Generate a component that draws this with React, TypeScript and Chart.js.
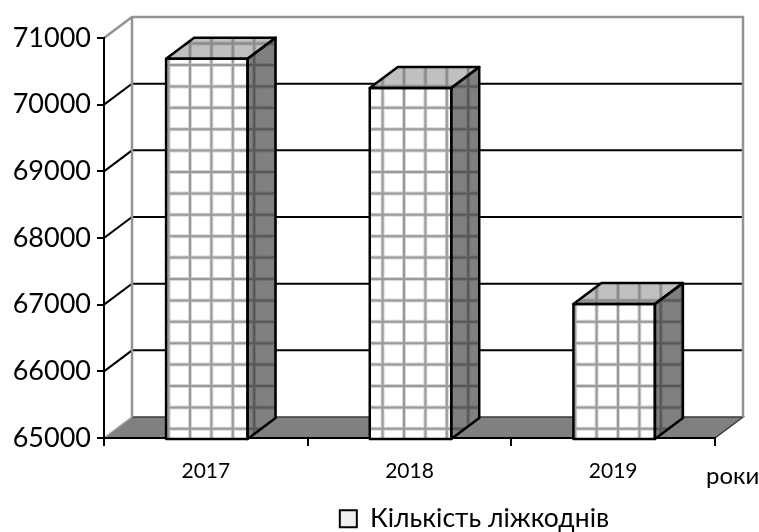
import React, { useEffect, useRef } from "react";
import { Chart, registerables } from "chart.js";

Chart.register(...registerables);

// ---- data ----
const categories = ["2017", "2018", "2019"];
const seriesLabel = "Кількість ліжкоднів";
const bedDays = [70690, 70250, 67010];
const yMin = 65000;
const yMax = 71000;
const yStep = 1000;
const xAxisTitle = "роки";

// ---- style constants ----
const FONT = "Lato, 'Open Sans', sans-serif";
const LEGEND_FONT = "Lato, 'Open Sans', sans-serif";
const DX = 28; // depth offset x
const DY = -21; // depth offset y
const CELL = 21.4; // pattern cell
const PAT_OX = 86; // pattern origin relative to chart area left
const PAT_OY = 27; // pattern origin relative to chart area top

function gridLines(ctx: CanvasRenderingContext2D, x0: number, y0: number, x1: number, y1: number, ox: number, oy: number, light: string, dark: string) {
  const drawSet = (color: string, w: number) => {
    ctx.strokeStyle = color;
    ctx.lineWidth = w;
    ctx.beginPath();
    let k = Math.floor((x0 - ox) / CELL) - 1;
    for (let gx = ox + k * CELL; gx <= x1 + 2; gx += CELL) {
      if (gx < x0 - 2) continue;
      ctx.moveTo(gx, y0);
      ctx.lineTo(gx, y1);
    }
    k = Math.floor((y0 - oy) / CELL) - 1;
    for (let gy = oy + k * CELL; gy <= y1 + 2; gy += CELL) {
      if (gy < y0 - 2) continue;
      ctx.moveTo(x0, gy);
      ctx.lineTo(x1, gy);
    }
    ctx.stroke();
  };
  drawSet(light, 4);
  drawSet(dark, 2);
}

const threeDPlugin = {
  id: "threeD",
  beforeDraw(chart: any) {
    const { ctx, chartArea } = chart;
    const yS = chart.scales.y;
    const left = chartArea.left;
    const right = chartArea.right;
    const top = yS.getPixelForValue(yMax);
    const bottom = yS.getPixelForValue(yMin);
    ctx.save();
    ctx.fillStyle = "#ffffff";
    ctx.fillRect(0, 0, chart.width, chart.height);
    // floor
    ctx.beginPath();
    ctx.moveTo(left, bottom);
    ctx.lineTo(right, bottom);
    ctx.lineTo(right + DX, bottom + DY);
    ctx.lineTo(left + DX, bottom + DY);
    ctx.closePath();
    ctx.fillStyle = "#808080";
    ctx.fill();
    ctx.strokeStyle = "#3a3a3a";
    ctx.lineWidth = 1.5;
    ctx.beginPath();
    ctx.moveTo(right, bottom);
    ctx.lineTo(right + DX, bottom + DY);
    ctx.lineTo(left + DX, bottom + DY);
    ctx.stroke();
    ctx.strokeStyle = "#a0a0a0";
    ctx.beginPath();
    ctx.moveTo(left, bottom);
    ctx.lineTo(left + DX, bottom + DY);
    ctx.stroke();
    // gridlines on side and back walls
    ctx.strokeStyle = "#000000";
    ctx.lineWidth = 2;
    for (let v = yMin + yStep; v < yMax; v += yStep) {
      const yy = yS.getPixelForValue(v);
      ctx.beginPath();
      ctx.moveTo(left, yy);
      ctx.lineTo(left + DX, yy + DY);
      ctx.lineTo(right + DX, yy + DY);
      ctx.stroke();
    }
    // wall borders
    ctx.strokeStyle = "#939393";
    ctx.lineWidth = 2.5;
    ctx.beginPath();
    ctx.moveTo(left, top);
    ctx.lineTo(left + DX, top + DY);
    ctx.lineTo(right + DX, top + DY);
    ctx.lineTo(right + DX, bottom + DY);
    ctx.moveTo(left + DX, top + DY);
    ctx.lineTo(left + DX, bottom + DY);
    ctx.stroke();
    ctx.restore();
  },
  afterDatasetsDraw(chart: any) {
    const { ctx, chartArea } = chart;
    const yS = chart.scales.y;
    const floorY = yS.getPixelForValue(yMin);
    const ox = chartArea.left + PAT_OX;
    const oy = chartArea.top + PAT_OY;
    const meta = chart.getDatasetMeta(0);
    ctx.save();
    meta.data.forEach((el: any) => {
      const { x, y, width } = el.getProps(["x", "y", "width"], true);
      const base = floorY + 1;
      const l = x - width / 2 + 1;
      const r = x + width / 2 + 1;
      const faces = [
        {
          pts: [[l, y], [r, y], [r, base], [l, base]],
          fill: "#ffffff", light: "#d6d6d6", dark: "#9a9a9a",
        },
        {
          pts: [[l, y], [l + DX, y + DY], [r + DX, y + DY], [r, y]],
          fill: "#c0c0c0", light: "#a8a8a8", dark: "#8a8a8a",
        },
        {
          pts: [[r, y], [r + DX, y + DY], [r + DX, base + DY], [r, base]],
          fill: "#808080", light: "#707070", dark: "#585858",
        },
      ];
      faces.forEach((f) => {
        ctx.save();
        ctx.beginPath();
        f.pts.forEach((p, i) => (i ? ctx.lineTo(p[0], p[1]) : ctx.moveTo(p[0], p[1])));
        ctx.closePath();
        ctx.fillStyle = f.fill;
        ctx.fill();
        ctx.clip();
        const xs = f.pts.map((p) => p[0]);
        const ys = f.pts.map((p) => p[1]);
        gridLines(ctx, Math.min(...xs), Math.min(...ys), Math.max(...xs), Math.max(...ys), ox, oy, f.light, f.dark);
        ctx.restore();
      });
      ctx.strokeStyle = "#000000";
      ctx.lineWidth = 2.5;
      ctx.lineJoin = "round";
      faces.forEach((f) => {
        ctx.beginPath();
        f.pts.forEach((p, i) => (i ? ctx.lineTo(p[0], p[1]) : ctx.moveTo(p[0], p[1])));
        ctx.closePath();
        ctx.stroke();
      });
    });
    // axis title "роки"
    ctx.fillStyle = "#000000";
    ctx.font = `24px ${LEGEND_FONT}`;
    ctx.textAlign = "left";
    ctx.textBaseline = "alphabetic";
    ctx.fillText(xAxisTitle, chartArea.right - 9, chartArea.bottom + 46);
    ctx.restore();
  },
};

const shiftLegend = {
  id: "shiftLegend",
  afterLayout(chart: any) {
    const lg = chart.legend;
    if (lg) {
      lg.left += 117;
      lg.right += 117;
      lg.top += 10;
      lg.bottom += 10;
    }
  },
};

export default function App() {
  const ref = useRef<HTMLCanvasElement | null>(null);
  useEffect(() => {
    if (!ref.current) return;
    const chart = new Chart(ref.current, {
      type: "bar",
      data: {
        labels: categories,
        datasets: [
          {
            label: seriesLabel,
            data: bedDays,
            backgroundColor: "rgba(0,0,0,0)",
            borderWidth: 0,
            barPercentage: 0.4,
            categoryPercentage: 1,
          },
        ],
      },
      options: {
        animation: false,
        responsive: false,
        layout: { padding: { top: 38, right: 44, left: 0, bottom: 0 } },
        plugins: {
          tooltip: { enabled: false },
          legend: {
            position: "bottom",
            labels: {
              font: { family: LEGEND_FONT, size: 26.5 },
              color: "#000000",
              boxWidth: 17,
              boxHeight: 17,
              padding: 4,
              generateLabels: () => [
                {
                  text: seriesLabel,
                  fillStyle: "#eeeeee",
                  strokeStyle: "#000000",
                  lineWidth: 2,
                  hidden: false,
                  datasetIndex: 0,
                },
              ],
            },
          },
        },
        scales: {
          x: {
            afterFit: (s: any) => {
              s.height = 53.5;
            },
            border: { display: true, color: "#000000", width: 2 },
            grid: { display: true, drawOnChartArea: false, drawTicks: true, tickLength: 8, color: "#000000", lineWidth: 2, offset: true },
            ticks: { font: { family: FONT, size: 21 }, color: "#000000", padding: 13 },
          },
          y: {
            min: yMin,
            max: yMax,
            afterFit: (s: any) => {
              s.width = 104;
            },
            border: { display: true, color: "#000000", width: 2 },
            grid: { display: true, drawOnChartArea: false, drawTicks: true, tickLength: 7, color: "#000000", lineWidth: 2 },
            ticks: {
              stepSize: yStep,
              font: { family: FONT, size: 27 },
              color: "#000000",
              padding: 6,
              callback: (v: any) => String(v),
            },
          },
        },
      },
      plugins: [threeDPlugin, shiftLegend],
    });
    return () => chart.destroy();
  }, []);
  return (
    <div style={{ position: "fixed", left: 0, top: 0, width: 759, height: 532, background: "#ffffff" }}>
      <canvas ref={ref} width={759} height={532} style={{ display: "block" }} />
    </div>
  );
}
